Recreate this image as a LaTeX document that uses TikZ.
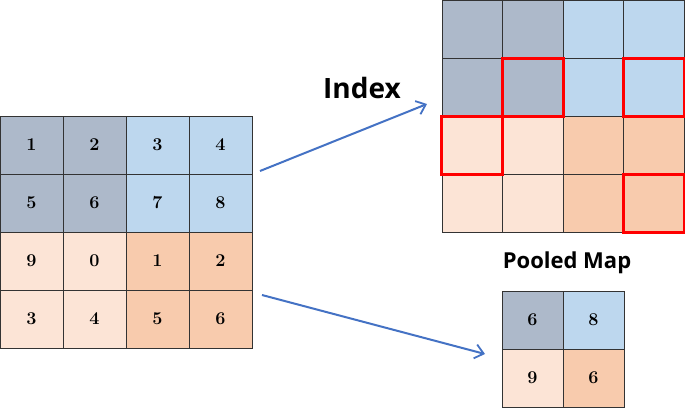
\documentclass[tikz,border=0pt]{standalone}
\usepackage{fontspec}
\usepackage{xcolor}
\usepackage{tikz}
\usetikzlibrary{arrows.meta}
\newfontfamily\labelfont{Open Sans}

\definecolor{grayblue}{HTML}{ADB9CA}
\definecolor{lightblue}{HTML}{BDD7EE}
\definecolor{lightpeach}{HTML}{FCE4D6}
\definecolor{darkpeach}{HTML}{F8CBAD}
\definecolor{arrowblue}{HTML}{4472C4}

\tikzset{
  cell/.style={rectangle,draw=black!80,line width=0.8pt,inner sep=0pt,minimum width=63pt,minimum height=58pt,font=\bfseries\fontsize{18}{21}\selectfont},
  rcell/.style={cell,minimum width=60.5pt},
  pcell/.style={cell,minimum width=61pt},
  redbox/.style={draw=red,line width=3pt},
  flow/.style={-{Straight Barb[length=3mm,width=5mm,line width=1.8pt]},arrowblue,line width=2pt},
}

\begin{document}
\begin{tikzpicture}[x=1pt,y=-1pt]
  \useasboundingbox (0,0) rectangle (685,408);
  % input feature map
  \node[cell,fill=grayblue] (a11) at (31.5,145) {1};
  \node[cell,fill=grayblue] (a12) at (94.5,145) {2};
  \node[cell,fill=lightblue] (a13) at (157.5,145) {3};
  \node[cell,fill=lightblue] (a14) at (220.5,145) {4};
  \node[cell,fill=grayblue] (a21) at (31.5,203) {5};
  \node[cell,fill=grayblue] (a22) at (94.5,203) {6};
  \node[cell,fill=lightblue] (a23) at (157.5,203) {7};
  \node[cell,fill=lightblue] (a24) at (220.5,203) {8};
  \node[cell,fill=lightpeach] (a31) at (31.5,261) {9};
  \node[cell,fill=lightpeach] (a32) at (94.5,261) {0};
  \node[cell,fill=darkpeach] (a33) at (157.5,261) {1};
  \node[cell,fill=darkpeach] (a34) at (220.5,261) {2};
  \node[cell,fill=lightpeach] (a41) at (31.5,319) {3};
  \node[cell,fill=lightpeach] (a42) at (94.5,319) {4};
  \node[cell,fill=darkpeach] (a43) at (157.5,319) {5};
  \node[cell,fill=darkpeach] (a44) at (220.5,319) {6};
  % index map
  \node[rcell,fill=grayblue] (b11) at (472.25,29.5) {};
  \node[rcell,fill=grayblue] (b12) at (532.75,29.5) {};
  \node[rcell,fill=lightblue] (b13) at (593.25,29.5) {};
  \node[rcell,fill=lightblue] (b14) at (653.75,29.5) {};
  \node[rcell,fill=grayblue] (b21) at (472.25,87.5) {};
  \node[rcell,fill=grayblue] (b22) at (532.75,87.5) {};
  \node[rcell,fill=lightblue] (b23) at (593.25,87.5) {};
  \node[rcell,fill=lightblue] (b24) at (653.75,87.5) {};
  \node[rcell,fill=lightpeach] (b31) at (472.25,145.5) {};
  \node[rcell,fill=lightpeach] (b32) at (532.75,145.5) {};
  \node[rcell,fill=darkpeach] (b33) at (593.25,145.5) {};
  \node[rcell,fill=darkpeach] (b34) at (653.75,145.5) {};
  \node[rcell,fill=lightpeach] (b41) at (472.25,203.5) {};
  \node[rcell,fill=lightpeach] (b42) at (532.75,203.5) {};
  \node[rcell,fill=darkpeach] (b43) at (593.25,203.5) {};
  \node[rcell,fill=darkpeach] (b44) at (653.75,203.5) {};
  \draw[redbox] (b22.north west) rectangle (b22.south east);
  \draw[redbox] (b24.north west) rectangle (b24.south east);
  \draw[redbox] (b31.north west) rectangle (b31.south east);
  \draw[redbox] (b44.north west) rectangle (b44.south east);
  % pooled map
  \node[pcell,fill=grayblue] (p11) at (532.5,320) {6};
  \node[pcell,fill=lightblue] (p12) at (593.5,320) {8};
  \node[pcell,fill=lightpeach] (p21) at (532.5,378) {9};
  \node[pcell,fill=darkpeach] (p22) at (593.5,378) {6};
  % labels
  \node[font=\labelfont\bfseries\fontsize{28}{32}\selectfont] (idx) at (362,88) {Index};
  \node[font=\labelfont\bfseries\fontsize{22}{25}\selectfont] (pool) at (567,263) {Pooled Map};
  % arrows
  \coordinate (up0) at (260,171);
  \coordinate (up1) at (427,104);
  \coordinate (dn0) at (262,295);
  \coordinate (dn1) at (485,354);
  \draw[flow] (up0) -- (up1);
  \draw[flow] (dn0) -- (dn1);
\end{tikzpicture}
\end{document}
